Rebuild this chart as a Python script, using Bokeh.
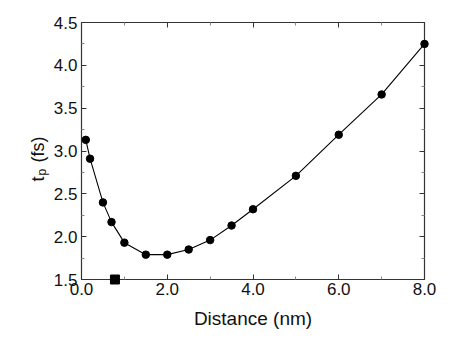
import numpy as np
from bokeh.plotting import figure
from bokeh.models import LinearAxis, FixedTicker, Range1d
from bokeh.core.properties import value
from bokeh.embed import file_html
from bokeh.resources import INLINE

distance = [0.1, 0.2, 0.5, 0.7, 1.0, 1.5, 2.0, 2.5, 3.0, 3.5, 4.0, 5.0, 6.0, 7.0, 8.0]
tp = [3.13, 2.91, 2.40, 2.17, 1.93, 1.79, 1.79, 1.85, 1.96, 2.13, 2.32, 2.71, 3.19, 3.66, 4.25]
square_x = [0.78]
square_y = [1.5]
x_ticks = [0, 2, 4, 6, 8]
x_minor = [1, 3, 5, 7]
y_ticks = [1.5, 2.0, 2.5, 3.0, 3.5, 4.0, 4.5]
y_minor = [1.75, 2.25, 2.75, 3.25, 3.75, 4.25]

FONT = "Liberation Sans"

p = figure(width=449, height=341, output_backend="svg", toolbar_location=None,
           x_range=Range1d(0, 8), y_range=Range1d(1.5, 4.5),
           min_border_left=81, min_border_right=25, min_border_top=22, min_border_bottom=62,
           x_axis_location=None, y_axis_location=None)
p.grid.visible = False
p.outline_line_color = "#333333"
p.outline_line_width = 1.2
p.background_fill_color = "white"
p.border_fill_color = "white"

def style(ax, labels=True):
    ax.axis_line_color = None
    ax.major_tick_in = 5
    ax.major_tick_out = 0
    ax.minor_tick_in = 3
    ax.minor_tick_out = 0
    ax.major_tick_line_color = "#333333"
    ax.minor_tick_line_color = "#888888"
    ax.major_label_text_font = FONT
    ax.major_label_text_font_size = "17px"
    ax.major_label_text_color = "#111111"
    if not labels:
        ax.major_label_text_font_size = "0px"
        ax.major_label_text_alpha = 0

bx = LinearAxis(ticker=FixedTicker(ticks=x_ticks, minor_ticks=x_minor))
style(bx)
bx.major_label_overrides = {t: f"{t:.1f}" for t in x_ticks}
bx.major_label_standoff = 3
bx.axis_label = "Distance (nm)"
bx.axis_label_text_font = FONT
bx.axis_label_text_font_size = "19px"
bx.axis_label_text_font_style = "normal"
bx.axis_label_text_color = "#111111"
bx.axis_label_standoff = 10
p.add_layout(bx, "below")

tx = LinearAxis(ticker=FixedTicker(ticks=x_ticks, minor_ticks=x_minor))
style(tx, labels=False)
p.add_layout(tx, "above")

ly = LinearAxis(ticker=FixedTicker(ticks=y_ticks, minor_ticks=y_minor))
style(ly)
ly.major_label_overrides = {t: f"{t:.1f}" for t in y_ticks}
ly.major_label_standoff = 4
p.add_layout(ly, "left")

ry = LinearAxis(ticker=FixedTicker(ticks=y_ticks, minor_ticks=y_minor))
style(ry, labels=False)
p.add_layout(ry, "right")

p.line(distance, tp, line_color="black", line_width=1.1)
p.scatter(distance, tp, size=7.5, marker="circle", fill_color="black", line_color="black",
          level="overlay")
p.scatter(square_x, square_y, size=9, marker="square", fill_color="black", line_color="black",
          level="overlay")

# rotated y-axis label with subscript, anchored at the frame's lower-left corner
x0, y0 = [0.0], [1.5]
common = dict(angle=np.pi/2, text_font=value(FONT), text_color="#111111",
              text_align="left", text_baseline="alphabetic", level="overlay")
p.text(x=x0, y=y0, text=["t"], x_offset=-44, y_offset=-98, text_font_size="18px", **common)
p.text(x=x0, y=y0, text=["p"], x_offset=-40, y_offset=-104, text_font_size="12px", **common)
p.text(x=x0, y=y0, text=["(fs)"], x_offset=-44, y_offset=-117, text_font_size="18px", **common)

open("out.html", "w").write(file_html(p, INLINE))
